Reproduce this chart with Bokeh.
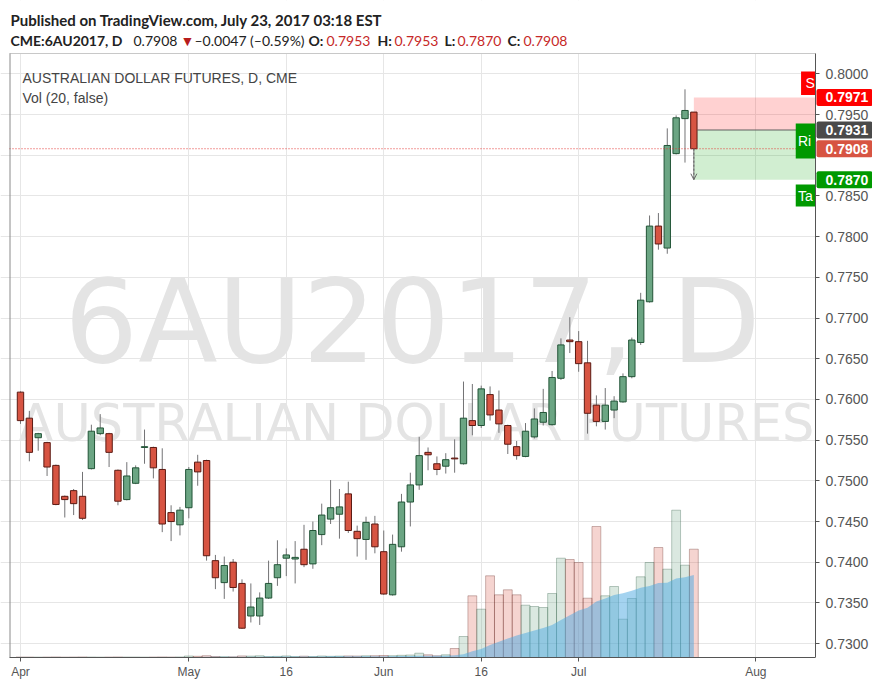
import numpy as np
import pandas as pd
from bokeh.plotting import figure
from bokeh.models import (ColumnDataSource, Range1d, FixedTicker, NumeralTickFormatter,
                          Label, Arrow, OpenHead, BoxAnnotation)
from bokeh.core.properties import value
from bokeh.embed import file_html
from bokeh.resources import INLINE

# ---------------- data (CME 6AU2017 daily, Apr 3 - Jul 21 2017) ----------------
open_ = [0.7609, 0.7577, 0.7553, 0.7547, 0.7519, 0.7481, 0.7488, 0.7481, 0.7515, 0.7558,
         0.7558, 0.7513, 0.7477, 0.7497, 0.7541, 0.7541, 0.7514, 0.7461, 0.7446, 0.7467,
         0.7523, 0.7525, 0.7402, 0.7375, 0.7400, 0.7374, 0.7334, 0.7334, 0.7356, 0.7381,
         0.7405, 0.7404, 0.7416, 0.7398, 0.7434, 0.7453, 0.7459, 0.7484, 0.7438, 0.7428,
         0.7447, 0.7413, 0.7360, 0.7419, 0.7474, 0.7495, 0.7535, 0.7521, 0.7518, 0.7528,
         0.7521, 0.7574, 0.7568, 0.7606, 0.7587, 0.7568, 0.7542, 0.7530, 0.7554, 0.7572,
         0.7569, 0.7626, 0.7673, 0.7671, 0.7645, 0.7593, 0.7573, 0.7587, 0.7597, 0.7628,
         0.7670, 0.7720, 0.7813, 0.7786, 0.7902, 0.7945, 0.7953]
high = [0.7610, 0.7586, 0.7559, 0.7548, 0.7520, 0.7482, 0.7490, 0.7511, 0.7569, 0.7582,
        0.7559, 0.7514, 0.7523, 0.7519, 0.7563, 0.7542, 0.7540, 0.7470, 0.7468, 0.7517,
        0.7532, 0.7526, 0.7409, 0.7407, 0.7404, 0.7379, 0.7374, 0.7363, 0.7402, 0.7427,
        0.7417, 0.7426, 0.7446, 0.7450, 0.7472, 0.7501, 0.7490, 0.7499, 0.7445, 0.7456,
        0.7457, 0.7439, 0.7434, 0.7484, 0.7510, 0.7554, 0.7541, 0.7530, 0.7534, 0.7551,
        0.7622, 0.7619, 0.7617, 0.7616, 0.7611, 0.7569, 0.7549, 0.7571, 0.7589, 0.7613,
        0.7635, 0.7675, 0.7701, 0.7684, 0.7672, 0.7605, 0.7614, 0.7604, 0.7632, 0.7676,
        0.7731, 0.7826, 0.7829, 0.7933, 0.7949, 0.7981, 0.7953]
low = [0.7570, 0.7524, 0.7537, 0.7506, 0.7470, 0.7455, 0.7458, 0.7452, 0.7514, 0.7556,
       0.7517, 0.7470, 0.7476, 0.7496, 0.7521, 0.7503, 0.7437, 0.7426, 0.7433, 0.7454,
       0.7494, 0.7402, 0.7367, 0.7355, 0.7364, 0.7318, 0.7326, 0.7323, 0.7355, 0.7371,
       0.7383, 0.7374, 0.7394, 0.7392, 0.7421, 0.7447, 0.7429, 0.7436, 0.7407, 0.7403,
       0.7411, 0.7360, 0.7359, 0.7413, 0.7444, 0.7489, 0.7513, 0.7507, 0.7509, 0.7510,
       0.7520, 0.7556, 0.7565, 0.7574, 0.7559, 0.7533, 0.7526, 0.7529, 0.7552, 0.7568,
       0.7568, 0.7624, 0.7657, 0.7634, 0.7558, 0.7567, 0.7563, 0.7577, 0.7596, 0.7626,
       0.7667, 0.7719, 0.7784, 0.7779, 0.7901, 0.7891, 0.7870]
close = [0.7574, 0.7535, 0.7558, 0.7517, 0.7471, 0.7477, 0.7472, 0.7454, 0.7561, 0.7565,
         0.7535, 0.7475, 0.7506, 0.7516, 0.7542, 0.7516, 0.7447, 0.7450, 0.7464, 0.7514,
         0.7511, 0.7408, 0.7381, 0.7396, 0.7369, 0.7319, 0.7345, 0.7356, 0.7374, 0.7397,
         0.7409, 0.7406, 0.7397, 0.7439, 0.7458, 0.7467, 0.7468, 0.7439, 0.7429, 0.7449,
         0.7419, 0.7361, 0.7422, 0.7474, 0.7495, 0.7531, 0.7532, 0.7514, 0.7526, 0.7527,
         0.7577, 0.7568, 0.7613, 0.7581, 0.7570, 0.7545, 0.7531, 0.7561, 0.7576, 0.7584,
         0.7627, 0.7667, 0.7671, 0.7644, 0.7583, 0.7573, 0.7593, 0.7598, 0.7628, 0.7673,
         0.7722, 0.7813, 0.7791, 0.7912, 0.7946, 0.7955, 0.7908]
# volume, thousands of contracts
volume = [0.5, 0.5, 0.4, 0.5, 0.6, 0.4, 0.5, 0.6, 0.5, 0.4,
          0.5, 0.6, 0.5, 0.5, 0.4, 0.5, 0.6, 0.5, 0.6, 1.5,
          1.2, 1.8, 1.0, 0.8, 0.7, 1.6, 1.4, 1.7, 0.9, 1.1,
          1.6, 0.9, 1.3, 1.0, 1.5, 1.2, 1.4, 1.6, 1.5, 1.7,
          1.8, 2.0, 1.8, 2.2, 2.5, 4.3, 2.7, 1.7, 2.7, 9.0,
          21.0, 61.7, 48.3, 81.7, 62.7, 67.7, 62.7, 52.3, 51.0, 50.0,
          64.0, 99.3, 98.0, 95.0, 59.3, 131.0, 61.7, 71.0, 38.3, 59.0,
          80.7, 95.0, 110.0, 88.3, 147.3, 92.3, 108.3]
tick_pos = [0, 19, 30, 41, 52, 63, 83]
tick_labels = ["Apr", "May", "16", "Jun", "16", "Jul", "Aug"]
price_ticks = [0.7300, 0.7350, 0.7400, 0.7450, 0.7500, 0.7550, 0.7600, 0.7650,
               0.7700, 0.7750, 0.7800, 0.7850, 0.7900, 0.7950, 0.8000]
vol_ma_len = 20
stop_price = 0.7971
entry_price = 0.7931
last_price = 0.7908
target_price = 0.7870

# ---------------- derived ----------------
n = len(close)
idx = np.arange(n)
o = np.array(open_); h = np.array(high); l = np.array(low); c = np.array(close)
inc = c >= o
vol = np.array(volume)
vol_ma = pd.Series(vol).rolling(vol_ma_len).mean()
# scale labels hidden where a price tag sits on top of them
axis_ticks = [t for t in price_ticks if abs(t - last_price) > 0.001]

UP, DN = "#6ba583", "#d75442"
UPB, DNB = "#225437", "#5b1a13"
WICK = "#737375"
FONT = "Liberation Sans"

# chart pane (data window) and the canvas geometry
W, H, BB = 872, 682, 25           # canvas, bottom axis band
CL, CT, CR, CB = 9, 53, 815, 657  # chart pane edges in px
cx0, cx1 = -1.24, 89.73            # bar-index window of the pane
cy0, cy1 = 0.7283, 0.8025          # price window of the pane
kx = (cx1 - cx0) / (CR - CL)
ky = (cy1 - cy0) / (CB - CT)
fx0, fx1 = cx0 - CL * kx, cx0 + (W - CL) * kx   # whole drawing area
fy0, fy1 = cy0, cy1 + CT * ky

def dx(px):
    return fx0 + px * kx

def dy(py):
    return fy0 + (CB - py) * ky

p = figure(width=W, height=H, min_border_left=0, min_border_right=0, min_border_top=0,
           min_border_bottom=BB, x_range=Range1d(fx0, fx1), y_range=Range1d(fy0, fy1),
           y_axis_location="right", output_backend="svg", toolbar_location=None,
           background_fill_color="white", border_fill_color="white")
p.outline_line_color = None
p.xgrid.ticker = FixedTicker(ticks=tick_pos)
p.xgrid.grid_line_color = "#e6e6e6"
p.ygrid.grid_line_color = "#e6e6e6"
p.ygrid.ticker = FixedTicker(ticks=price_ticks)

# axes
p.xaxis.ticker = FixedTicker(ticks=tick_pos)
p.xaxis.major_label_overrides = {t: s for t, s in zip(tick_pos, tick_labels)}
p.xaxis.bounds = (cx0, cx1)
p.yaxis.ticker = FixedTicker(ticks=axis_ticks)
p.yaxis.formatter = NumeralTickFormatter(format="0.0000")
p.yaxis.bounds = (cy0, cy1)
p.yaxis.fixed_location = cx1
for ax in (p.xaxis[0], p.yaxis[0]):
    ax.axis_line_color = "#555555"
    ax.major_tick_line_color = "#555555"
    ax.major_tick_in = 0
    ax.major_tick_out = 4
    ax.minor_tick_line_color = None
    ax.major_label_text_font = FONT
    ax.major_label_text_color = "#555555"
    ax.major_label_text_font_size = "12px"
    ax.major_label_standoff = 3
p.yaxis.major_label_text_font_size = "14px"
p.yaxis.major_label_standoff = 6

# watermark
xc = (cx0 + cx1) / 2
p.text(x=[xc], y=[cy0 + 0.557 * (cy1 - cy0)], text=["6AU2017, D"], text_align="center",
       text_baseline="middle", text_font=value("DejaVu Sans"), text_font_size="116px",
       text_color="#e4e4e4")
p.text(x=[xc + 4 * kx], y=[cy0 + 0.387 * (cy1 - cy0)], text=["AUSTRALIAN DOLLAR FUTURES"],
       text_align="center", text_baseline="middle", text_font=value("DejaVu Sans"),
       text_font_size="51px", text_color="#e4e4e4")

# volume (overlay scale, 1 unit = 1 px)
p.extra_y_ranges = {"vol": Range1d(0, CB)}
vsrc = ColumnDataSource(dict(x=idx, top=vol,
                             fill=[UP if u else DN for u in inc],
                             line=[UPB if u else DNB for u in inc]))
p.vbar(x="x", top="top", bottom=0, width=1.0, source=vsrc, y_range_name="vol",
       fill_color="fill", fill_alpha=0.25, line_color="line", line_alpha=0.3)
ok = ~vol_ma.isna().values
p.varea(x=idx[ok], y1=np.zeros(ok.sum()), y2=vol_ma.values[ok], y_range_name="vol",
        fill_color="#4aa8e2", fill_alpha=0.5)

# short position tool
p.add_layout(BoxAnnotation(left=n - 1, right=cx1, bottom=entry_price, top=stop_price,
                           fill_color="#ff0000", fill_alpha=0.18, line_alpha=0, level="underlay"))
p.add_layout(BoxAnnotation(left=n - 1, right=cx1, bottom=target_price, top=entry_price,
                           fill_color="#00a000", fill_alpha=0.18, line_alpha=0, level="underlay"))
p.segment(x0=[n - 1 + 0.4], y0=[entry_price], x1=[cx1], y1=[entry_price],
          line_color="#606060", line_width=1.2)

# candles
p.segment(idx, h, idx, l, color=WICK, line_width=1)
p.vbar(idx[inc], 0.72, c[inc], o[inc], fill_color=UP, line_color=UPB, line_width=1)
p.vbar(idx[~inc], 0.72, o[~inc], c[~inc], fill_color=DN, line_color=DNB, line_width=1)

# last price line & arrow
p.segment(x0=[cx0], y0=[last_price], x1=[cx1], y1=[last_price], line_color="#e53935",
          line_dash="1 2", line_width=1)
p.add_layout(Arrow(x_start=n - 1, y_start=last_price, x_end=n - 1, y_end=target_price,
                   line_color="#666666", line_dash="2 2", line_width=1,
                   end=OpenHead(size=6, line_color="#666666", line_width=1)))

# tool side tags, partly hidden under the price scale
tag_left = 87.5
p.quad(left=[88.1, tag_left, tag_left], right=[cx1 + 1] * 3,
       bottom=[stop_price + 0.0003, entry_price - 0.0035, target_price - 0.0033],
       top=[stop_price + 0.0032, entry_price + 0.0008, target_price - 0.0006],
       fill_color=["#ff0000", "#009900", "#009900"], line_color=None)
p.text(x=[88.6, tag_left + 0.25, tag_left + 0.25],
       y=[stop_price + 0.00175, entry_price - 0.00135, target_price - 0.00195],
       text=["S", "Ri", "Ta"], text_align="left", text_baseline="middle",
       text_font=value(FONT), text_font_size="14px", text_color="white")

# price-scale band and header band (cover grid lines)
p.quad(left=[cx1, fx0], right=[fx1, fx1], bottom=[fy0, cy1], top=[fy1, fy1],
       fill_color="white", line_color=None)
# pane border (top and left)
p.segment(x0=[cx0], y0=[cy1], x1=[cx1], y1=[cy1], line_color="#c8c8c8", line_width=1)
p.segment(x0=[cx0 + 0.5 * kx], y0=[cy0], x1=[cx0 + 0.5 * kx], y1=[cy1],
          line_color="#8a8a8a", line_width=1)

# price tags on the scale
half = 8.5 * ky
for price, col in [(stop_price, "#ff0000"), (entry_price, "#4a4a4a"),
                   (last_price, "#d75442"), (target_price, "#009900")]:
    p.add_layout(BoxAnnotation(left=dx(816), right=fx1, bottom=price - half, top=price + half,
                               fill_color=col, fill_alpha=1, line_alpha=0, border_radius=2))
    p.add_layout(Label(x=dx(825), y=price, text="%.4f" % price, text_color="white",
                       text_font=FONT, text_font_size="14px", text_font_style="bold",
                       text_baseline="middle", text_align="left"))

def lab(px, py, text, color="#444444", size="14px", style="normal", font=FONT):
    p.add_layout(Label(x=dx(px), y=dy(py), text=text, text_color=color, text_font=font,
                       text_font_size=size, text_font_style=style, text_baseline="middle",
                       text_align="left"))

lab(22, 77, "AUSTRALIAN DOLLAR FUTURES, D, CME")
lab(22, 97, "Vol (20, false)")

# header
HF = "Lato"
RED = "#c62828"
lab(10, 19, "Published on TradingView.com, July 23, 2017 03:18 EST", "#222222", "15px", "bold", HF)
segs = [(10, "CME:6AU2017, D", "#222222", "bold"), (133, "0.7908", "#222222", "normal"),
        (180, "\u25BC", "#b71c1c", "normal"), (194, "\u20130.0047 (\u20130.59%)", "#222222", "normal"),
        (308, "O:", "#222222", "bold"), (326, "0.7953", RED, "normal"),
        (377, "H:", "#222222", "bold"), (394, "0.7953", RED, "normal"),
        (444, "L:", "#222222", "bold"), (457, "0.7870", RED, "normal"),
        (507, "C:", "#222222", "bold"), (523, "0.7908", RED, "normal")]
for xx, t, col, st in segs:
    lab(xx, 40, t, col, "14px", st, HF)

open("out.html", "w").write(file_html(p, INLINE))
